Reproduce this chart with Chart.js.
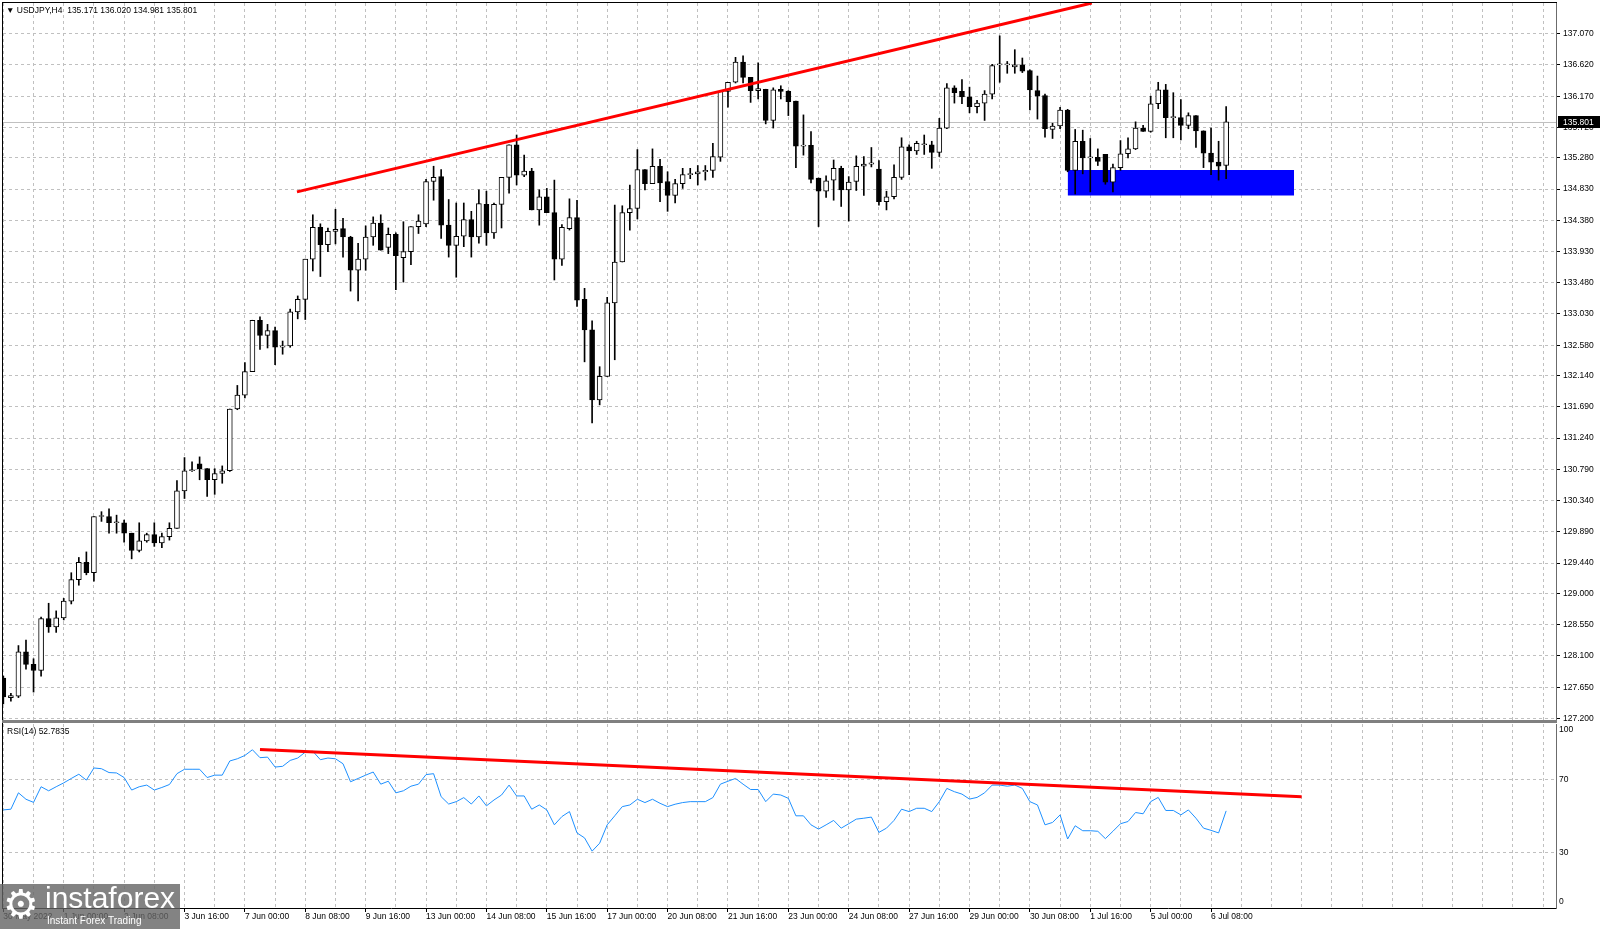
<!DOCTYPE html>
<html>
<head>
<meta charset="utf-8">
<title>USDJPY H4</title>
<script src="https://cdn.jsdelivr.net/npm/chart.js@4.4.1/dist/chart.umd.min.js"></script>
<style>
  html, body { margin: 0; padding: 0; background: #fff; }
  #wrap { position: relative; width: 1600px; height: 929px; overflow: hidden; font-family: 'Liberation Sans', Arial, sans-serif; }
  canvas { position: absolute; left: 0; }
  .ln { position: absolute; }
  .txt { position: absolute; white-space: nowrap; color: #000; font-size: 8.5px; }
</style>
</head>
<body>
<div id="wrap">
  <canvas id="main" width="1600" height="721" style="top:0"></canvas>
  <canvas id="rsi" width="1600" height="206" style="top:723px"></canvas>

  <div class="ln" style="left:2px;top:2px;width:1px;height:907px;background:#000"></div>
  <div class="ln" style="left:2px;top:2px;width:1555px;height:1px;background:#000"></div>
  <div class="ln" style="left:2px;top:720px;width:1555px;height:3px;background:#808080"></div>

  <div class="txt" style="left:6px;top:5px">&#9660; USDJPY,H4&nbsp; 135.171 136.020 134.981 135.801</div>
  <div class="txt" style="left:7px;top:726px">RSI(14) 52.7835</div>

  <div style="position:absolute;left:0;top:884px;width:180px;height:45px;background:rgba(100,100,100,0.8);color:#fff;overflow:hidden">
    <span style="position:absolute;left:3px;top:-3px;font-size:40px;font-family:'DejaVu Sans'">&#9881;</span>
    <span style="position:absolute;left:45px;top:-3px;font-size:30px;">instaforex</span>
    <span style="position:absolute;left:47px;top:31px;font-size:10px;">Instant Forex Trading</span>
  </div>
</div>

<script>
// price axis labels
const priceTicks = ['137.070', '136.620', '136.170', '135.720', '135.280', '134.830', '134.380',
  '133.930', '133.480', '133.030', '132.580', '132.140', '131.690', '131.240', '130.790',
  '130.340', '129.890', '129.440', '129.000', '128.550', '128.100', '127.650', '127.200'];
const rsiLevels = ['100', '70', '30', '0'];

// time axis: bar index of each label and its text
const xTickBars = [0, 8, 16, 24, 32, 40, 48, 56, 64, 72, 80, 88, 96, 104, 112, 120, 128, 136, 144, 152, 160];
const xTickLabels = ['30 May 2022', '1 Jun 00:00', '2 Jun 08:00', '3 Jun 16:00', '7 Jun 00:00', '8 Jun 08:00',
  '9 Jun 16:00', '13 Jun 00:00', '14 Jun 08:00', '15 Jun 16:00', '17 Jun 00:00', '20 Jun 08:00',
  '21 Jun 16:00', '23 Jun 00:00', '24 Jun 08:00', '27 Jun 16:00', '29 Jun 00:00', '30 Jun 08:00',
  '1 Jul 16:00', '5 Jul 00:00', '6 Jul 08:00'];

// H4 candles
const open = [
  127.78,127.50,127.52,128.16,127.98,127.89,128.64,128.52,128.65,128.89,
  129.20,129.45,129.30,130.11,130.11,130.02,130.02,129.87,129.62,129.76,
  129.85,129.73,129.82,129.94,130.48,130.77,130.87,130.80,130.64,130.73,
  130.77,131.66,131.86,132.20,132.94,132.72,132.79,132.55,132.57,133.06,
  133.24,133.82,134.28,134.03,134.22,134.26,134.14,133.66,133.82,134.14,
  134.34,133.99,134.18,133.84,133.93,134.29,134.33,134.94,135.01,134.31,
  134.02,134.15,134.39,134.14,134.61,134.20,134.61,135.00,135.47,135.03,
  135.09,134.53,134.72,134.49,133.82,134.26,134.42,133.24,132.80,131.79,
  132.13,133.19,133.78,134.49,134.55,135.11,134.91,135.16,134.94,134.74,
  134.91,135.04,135.05,135.08,135.10,135.29,136.24,136.37,136.66,136.44,
  136.25,136.27,135.82,136.27,136.24,136.10,135.45,135.46,134.99,134.80,
  134.96,135.13,134.82,134.94,135.16,135.19,135.12,134.65,134.72,135.00,
  135.44,135.38,135.47,135.47,135.36,135.71,136.29,136.24,136.16,136.02,
  136.07,136.20,136.62,136.62,136.59,136.62,136.54,136.25,136.18,135.69,
  135.74,135.97,135.10,135.52,135.28,135.29,135.33,134.93,135.14,135.34,
  135.41,135.71,135.66,136.06,136.26,135.86,135.86,135.75,135.89,135.67,
  135.35,135.22,135.171];
const high = [
  127.81,127.56,128.25,128.33,128.06,128.66,128.86,128.75,128.93,129.30,
  129.52,129.60,130.11,130.18,130.22,130.13,130.06,129.87,130.02,129.87,
  130.02,129.87,130.02,130.63,130.96,130.90,130.97,130.80,130.80,130.84,
  131.66,132.00,132.33,132.94,132.99,132.88,132.84,132.64,133.10,133.29,
  133.82,134.46,134.33,134.27,134.54,134.41,134.15,134.05,134.30,134.43,
  134.46,134.27,134.20,134.36,134.29,134.46,134.97,135.16,135.11,134.68,
  134.63,134.63,134.51,134.82,134.80,134.63,135.00,135.47,135.61,135.32,
  135.13,134.82,134.84,134.96,134.32,134.69,134.67,133.40,132.93,132.27,
  133.27,134.60,134.59,134.89,135.40,135.11,135.41,135.26,135.08,134.97,
  135.13,135.13,135.17,135.17,135.49,136.24,136.37,136.73,136.75,136.44,
  136.65,136.27,136.29,136.32,136.25,136.10,135.90,135.66,134.99,135.02,
  135.25,135.16,135.01,135.31,135.30,135.43,135.24,134.80,135.18,135.57,
  135.47,135.52,135.61,135.52,135.85,136.35,136.32,136.41,136.30,136.11,
  136.25,136.63,137.04,136.67,136.84,136.72,136.55,136.46,136.20,135.78,
  136.01,135.98,135.69,135.68,135.56,135.41,135.33,135.19,135.53,135.57,
  135.80,135.75,136.17,136.37,136.34,136.22,136.12,135.93,135.89,135.67,
  135.71,135.52,136.020];
const low = [
  127.41,127.45,127.50,127.91,127.58,127.81,128.44,128.44,128.62,128.85,
  129.12,129.27,129.18,130.04,129.87,129.87,129.74,129.50,129.60,129.74,
  129.68,129.66,129.77,129.94,130.37,130.76,130.64,130.40,130.43,130.59,
  130.76,131.65,131.82,132.20,132.52,132.54,132.30,132.45,132.55,132.96,
  132.95,133.65,133.57,133.93,134.04,133.85,133.36,133.22,133.66,134.02,
  133.95,133.90,133.38,133.49,133.74,134.19,134.29,134.67,134.12,133.85,
  133.56,134.00,133.85,134.05,134.02,134.12,134.27,134.77,134.89,135.01,
  134.53,134.31,134.49,133.52,133.73,134.24,133.14,132.34,131.46,131.72,
  132.13,132.37,133.78,134.24,134.40,134.82,134.91,134.65,134.51,134.63,
  134.84,134.98,134.89,134.96,135.00,135.23,136.01,136.36,136.36,136.08,
  136.13,135.77,135.71,136.13,135.89,135.14,135.32,134.92,134.29,134.71,
  134.67,134.58,134.37,134.81,134.74,135.15,134.60,134.53,134.69,134.97,
  135.04,135.33,135.33,135.13,135.30,135.70,136.07,136.06,135.93,135.93,
  135.82,136.13,136.37,136.50,136.50,136.51,135.97,135.84,135.58,135.56,
  135.70,135.08,134.76,135.05,134.79,135.17,134.90,134.79,135.10,135.28,
  135.40,135.66,135.65,135.99,135.57,135.57,135.54,135.70,135.43,135.14,
  135.04,134.96,134.981];
const close = [
  127.51,127.53,128.16,127.98,127.89,128.64,128.52,128.65,128.89,129.20,
  129.45,129.30,130.11,130.12,130.02,130.02,129.87,129.62,129.76,129.85,
  129.73,129.82,129.94,130.48,130.77,130.78,130.80,130.64,130.73,130.77,
  131.66,131.86,132.20,132.94,132.72,132.79,132.55,132.57,133.06,133.24,
  133.82,134.28,134.03,134.22,134.25,134.14,133.66,133.82,134.14,134.34,
  133.95,134.18,133.87,133.93,134.29,134.37,134.94,135.00,134.31,134.02,
  134.15,134.39,134.14,134.62,134.20,134.61,135.00,135.47,135.03,135.09,
  134.53,134.72,134.49,133.82,134.28,134.42,133.23,132.80,131.79,132.13,
  133.19,133.78,134.49,134.55,135.11,134.91,135.16,134.92,134.74,134.91,
  135.04,135.05,135.08,135.10,135.30,136.24,136.37,136.66,136.44,136.25,
  136.28,135.82,136.26,136.24,136.09,135.45,135.46,134.97,134.80,134.95,
  135.13,134.82,134.93,135.16,135.19,135.21,134.65,134.72,135.00,135.44,
  135.38,135.49,135.47,135.36,135.71,136.29,136.22,136.16,136.02,136.07,
  136.20,136.61,136.62,136.62,136.62,136.53,136.26,136.17,135.70,135.74,
  135.97,135.10,135.52,135.28,135.29,135.23,134.93,135.14,135.34,135.41,
  135.71,135.66,136.06,136.26,135.86,135.86,135.75,135.89,135.67,135.35,
  135.22,135.16,135.801];

// RSI(14)
const rsi = [
  53.3,53.7,62.6,59.1,57.4,65.9,63.7,65.9,68.0,70.4,
  72.7,69.5,76.1,75.7,73.6,73.4,70.9,64.1,65.9,66.8,
  64.1,65.5,67.1,73.0,75.4,75.4,75.4,70.9,72.2,72.2,
  79.9,81.1,82.9,86.0,81.7,82.0,76.6,77.0,80.2,81.5,
  84.7,85.2,80.6,81.5,81.1,78.4,68.6,70.4,72.2,73.9,
  67.3,68.9,62.6,63.7,66.2,67.3,72.5,73.0,60.5,56.5,
  57.8,60.0,56.5,60.9,55.5,58.7,61.4,66.8,60.9,60.9,
  53.7,56.0,53.3,45.2,49.7,52.4,40.8,38.1,30.9,35.2,
  45.2,50.1,55.1,56.0,59.1,57.3,59.1,56.9,55.1,56.4,
  57.3,57.8,57.8,57.8,60.0,67.3,68.9,70.4,67.3,64.4,
  64.4,57.8,61.9,61.4,59.6,50.1,50.1,45.2,42.9,45.2,
  47.6,43.4,45.8,48.3,48.8,49.4,41.1,43.4,47.6,53.7,
  52.4,54.2,54.2,52.4,57.8,65.0,63.2,61.9,59.2,60.1,
  62.6,66.8,66.8,66.2,66.8,65.0,57.8,56.0,45.2,46.5,
  50.6,37.5,44.7,42.0,42.0,41.7,37.7,41.7,45.8,47.0,
  51.9,51.2,57.8,60.1,53.0,53.0,50.6,53.3,48.8,43.4,
  42.2,40.8,52.78];

// drawn objects: trend lines (bar index, value) and support box
const trendX = [38.9, 144.2];
const trendY = [134.79, 137.513];
const rsiTrendX = [34, 172];
const rsiTrendY = [86.1, 60.5];
const zoneX = [141, 171];
const zoneY = [134.737, 135.107];

const bars = close.map((c, i) => i);
const lastPrice = close[close.length - 1];
const X_MIN = -0.046, X_MAX = 205.7;
const gridBars = [];
for (let b = 0; b <= 204; b += 4) gridBars.push(b);

const FONT = { family: "'Liberation Sans', Arial, sans-serif", size: 8.5 };
const GRID = '#c0c0c0';

// no extra label padding: the plot areas must keep their exact size
function noPad(s) {
  s.paddingTop = 0; s.paddingBottom = 0; s.paddingLeft = 0; s.paddingRight = 0;
}

const priceMarker = {
  id: 'priceMarker',
  beforeDatasetsDraw(chart) {
    const { ctx, chartArea } = chart;
    const y = Math.round(chart.scales.y.getPixelForValue(lastPrice)) + 0.5;
    ctx.save();
    ctx.strokeStyle = GRID;
    ctx.lineWidth = 1;
    ctx.beginPath();
    ctx.moveTo(chartArea.left, y);
    ctx.lineTo(chartArea.right, y);
    ctx.stroke();
    ctx.restore();
  },
  afterDraw(chart) {
    const { ctx, chartArea } = chart;
    const y = Math.round(chart.scales.y.getPixelForValue(lastPrice));
    ctx.save();
    ctx.fillStyle = '#000';
    ctx.fillRect(chartArea.right + 2, y - 6, 42, 12);
    ctx.fillStyle = '#fff';
    ctx.font = "8.5px 'Liberation Sans', Arial, sans-serif";
    ctx.textBaseline = 'middle';
    ctx.fillText(lastPrice.toFixed(3), chartArea.right + 7, y + 0.5);
    ctx.restore();
  }
};

new Chart(document.getElementById('main'), {
  type: 'bar',
  data: {
    datasets: [
      {
        type: 'line',
        data: trendX.map((x, i) => ({ x: x, y: trendY[i] })),
        borderColor: '#ff0000',
        borderWidth: 3,
        pointRadius: 0,
        order: 1
      },
      {
        type: 'bar',
        data: bars.map(i => ({ x: i, y: [open[i], close[i]] })),
        backgroundColor: bars.map(i => close[i] >= open[i] ? '#ffffff' : '#000000'),
        borderColor: '#000',
        borderWidth: 1,
        borderSkipped: false,
        barThickness: 5,
        minBarLength: 1,
        grouped: false,
        order: 2
      },
      {
        type: 'bar',
        data: bars.map(i => ({ x: i, y: [low[i], high[i]] })),
        backgroundColor: '#000',
        borderWidth: 0,
        barThickness: 1,
        grouped: false,
        order: 3
      },
      {
        type: 'line',
        data: zoneX.map(x => ({ x: x, y: zoneY[1] })),
        fill: { value: zoneY[0] },
        backgroundColor: '#0000ff',
        borderColor: '#0000ff',
        borderWidth: 0,
        pointRadius: 0,
        order: 4
      }
    ]
  },
  options: {
    responsive: false,
    animation: false,
    events: [],
    layout: { padding: { left: 3, top: 3, right: 0, bottom: 1 } },
    plugins: { legend: { display: false }, tooltip: { enabled: false } },
    scales: {
      x: {
        type: 'linear',
        min: X_MIN,
        max: X_MAX,
        offset: false,
        afterBuildTicks: s => { s.ticks = gridBars.map(v => ({ value: v })); },
        afterFit: s => { s.height = 0; noPad(s); },
        ticks: { display: false },
        grid: { color: GRID, drawTicks: false, offset: false },
        border: { display: false, dash: [3, 3] }
      },
      y: {
        position: 'right',
        min: 127.177,
        max: 137.513,
        afterBuildTicks: s => { s.ticks = priceTicks.map(t => ({ value: parseFloat(t) })); },
        afterFit: s => { s.width = 44; noPad(s); },
        ticks: {
          callback: (v, i) => priceTicks[i],
          font: FONT,
          color: '#000',
          padding: 3
        },
        grid: { color: GRID, tickColor: '#000', tickLength: 4 },
        border: { display: true, color: '#6b6b6b', width: 1, dash: [3, 3] }
      }
    }
  },
  plugins: [priceMarker]
});

const rsiText = {
  id: 'rsiText',
  afterDraw(chart) {
    const { ctx, chartArea } = chart;
    const sc = chart.scales.y;
    ctx.save();
    ctx.fillStyle = '#000';
    ctx.font = "8.5px 'Liberation Sans', Arial, sans-serif";
    ctx.textBaseline = 'middle';
    rsiLevels.forEach(t => {
      let y = sc.getPixelForValue(parseFloat(t));
      y = Math.min(Math.max(y, chartArea.top + 5.5), chartArea.bottom - 6);
      ctx.fillText(t, chartArea.right + 3, y);
    });
    ctx.restore();
  }
};

new Chart(document.getElementById('rsi'), {
  type: 'line',
  data: {
    datasets: [
      {
        data: rsiTrendX.map((x, i) => ({ x: x, y: rsiTrendY[i] })),
        borderColor: '#ff0000',
        borderWidth: 3,
        pointRadius: 0,
        order: 1
      },
      {
        data: rsi.map((v, i) => ({ x: i, y: v })),
        borderColor: '#1e90ff',
        borderWidth: 1,
        pointRadius: 0,
        tension: 0,
        order: 2
      }
    ]
  },
  options: {
    responsive: false,
    animation: false,
    events: [],
    layout: { padding: { left: 3, top: 1, right: 0, bottom: 0 } },
    plugins: { legend: { display: false }, tooltip: { enabled: false } },
    scales: {
      x: {
        type: 'linear',
        min: X_MIN,
        max: X_MAX,
        offset: false,
        afterBuildTicks: s => { s.ticks = gridBars.map(v => ({ value: v })); },
        afterFit: s => { s.height = 21; noPad(s); },
        ticks: {
          autoSkip: false,
          maxRotation: 0,
          minRotation: 0,
          align: 'start',
          padding: 0,
          font: FONT,
          color: '#000',
          callback: v => { const k = xTickBars.indexOf(v); return k >= 0 ? xTickLabels[k] : ''; }
        },
        grid: {
          color: GRID,
          tickLength: 4,
          tickColor: c => (c.tick && xTickBars.indexOf(c.tick.value) >= 0) ? '#000' : 'rgba(0,0,0,0)'
        },
        border: { display: true, color: '#000', width: 1, dash: [3, 3] }
      },
      y: {
        position: 'right',
        min: 0,
        max: 100,
        afterBuildTicks: s => { s.ticks = [{ value: 70 }, { value: 30 }]; },
        afterFit: s => { s.width = 44; noPad(s); },
        ticks: { display: false },
        grid: { color: GRID, drawTicks: false },
        border: { display: true, color: '#6b6b6b', width: 1, dash: [3, 3] }
      }
    }
  },
  plugins: [rsiText]
});
</script>
</body>
</html>
